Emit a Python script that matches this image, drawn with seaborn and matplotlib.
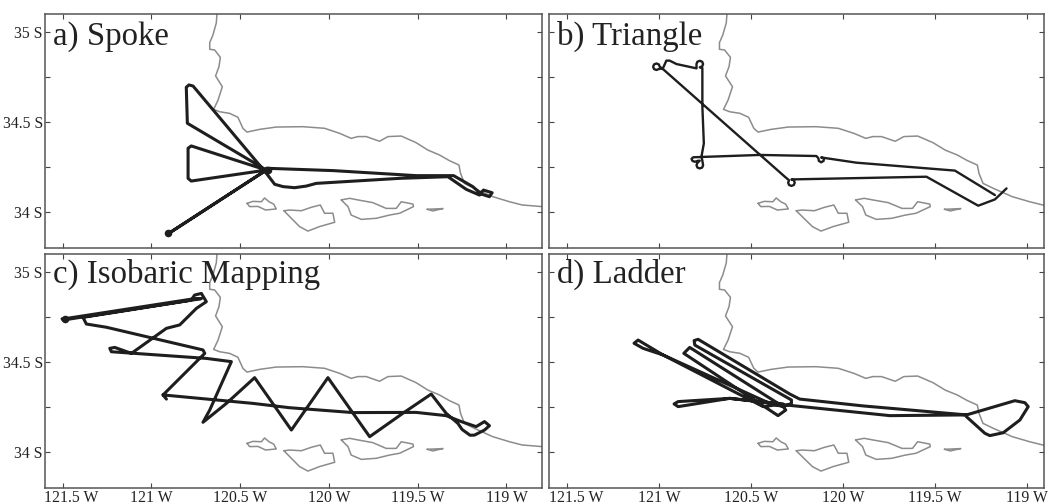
import matplotlib
matplotlib.use('Agg')
import matplotlib.pyplot as plt
import matplotlib.transforms as mtrans
import seaborn as sns

sns.set_style('white')
plt.rcParams['font.family'] = ['Liberation Serif', 'DejaVu Serif']

# coastline and islands (deg)
coast_lon = [-120.631, -120.635, -120.654, -120.672, -120.672, -120.644, -120.612, -120.620, -120.639, -120.601,
             -120.625, -120.650, -120.616, -120.560, -120.513, -120.485, -120.462, -120.391, -120.297, -120.147,
             -120.025, -119.940, -119.875, -119.837, -119.790, -119.715, -119.668, -119.593, -119.509, -119.443,
             -119.378, -119.321, -119.268, -119.259, -119.237, -119.180, -119.077, -118.983, -118.912, -118.800]
coast_lat = [35.10, 35.05, 34.983, 34.941, 34.904, 34.90, 34.859, 34.807, 34.756, 34.696,
             34.622, 34.570, 34.557, 34.548, 34.526, 34.465, 34.444, 34.459, 34.472, 34.474,
             34.465, 34.437, 34.409, 34.419, 34.419, 34.393, 34.419, 34.422, 34.385, 34.344,
             34.317, 34.285, 34.261, 34.215, 34.159, 34.131, 34.085, 34.057, 34.039, 34.03]

miguel_lon = [-120.462, -120.447, -120.400, -120.357, -120.297, -120.312, -120.338, -120.363, -120.381, -120.428, -120.462]
miguel_lat = [34.048, 34.030, 34.031, 34.011, 34.017, 34.044, 34.057, 34.078, 34.057, 34.059, 34.048]
rosa_lon = [-120.254, -120.203, -120.166, -120.119, -120.053, -119.968, -119.978, -120.025, -120.049, -120.100, -120.156, -120.222, -120.254]
rosa_lat = [34.007, 33.956, 33.919, 33.894, 33.919, 33.943, 33.993, 33.993, 34.039, 34.026, 34.007, 34.011, 34.007]
cruz_lon = [-119.931, -119.893, -119.875, -119.818, -119.734, -119.659, -119.602, -119.524, -119.527, -119.593, -119.621, -119.678, -119.753, -119.837, -119.884, -119.931]
cruz_lat = [34.067, 34.030, 33.983, 33.959, 33.965, 33.983, 33.993, 34.030, 34.044, 34.057, 34.020, 34.020, 34.052, 34.067, 34.076, 34.067]
anacapa_lon = [-119.447, -119.415, -119.358, -119.400, -119.447]
anacapa_lat = [34.015, 34.006, 34.019, 34.017, 34.015]

# flight tracks
spoke_lon = [-120.353, -119.978, -119.509, -119.298, -119.190, -119.143, -119.096, -119.081, -119.130, -119.152,
             -119.227, -119.330, -119.602, -120.072, -120.128, -120.194, -120.259, -120.306, -120.353, -120.766, -120.789, -120.804,
             -120.798, -120.353, -120.776, -120.794, -120.794, -120.776, -120.353, -120.911, -120.353]
spoke_lat = [34.243, 34.230, 34.202, 34.202, 34.141, 34.100, 34.085, 34.107, 34.122, 34.094,
             34.126, 34.196, 34.187, 34.159, 34.144, 34.135, 34.141, 34.154, 34.215, 34.700, 34.706, 34.693,
             34.493, 34.233, 34.367, 34.354, 34.187, 34.172, 34.233, 33.876, 34.233]

triangle_lon = [-119.109, -119.172, -119.263, -119.545, -120.280, -120.267, -120.262, -120.267, -120.280, -120.293,
                -120.298, -120.293, -120.316, -120.975, -120.997, -121.002, -121.015, -121.028, -121.033, -121.028,
                -121.015, -121.002, -120.979, -120.961, -120.943, -120.906, -120.797, -120.797, -120.792, -120.779,
                -120.766, -120.761, -120.766, -120.779, -120.765, -120.765, -120.757, -120.770, -120.765, -120.761,
                -120.766, -120.779, -120.792, -120.797, -120.792, -120.779, -120.790, -120.806, -120.819, -120.824,
                -120.815, -120.790, -120.452, -120.144, -120.133, -120.131, -120.118, -120.105, -120.103, -120.118,
                -119.926, -119.390, -119.172]
triangle_lat = [34.131, 34.070, 34.035, 34.196, 34.181, 34.176, 34.163, 34.150, 34.145, 34.150,
                34.163, 34.176, 34.196, 34.790, 34.807, 34.820, 34.825, 34.820, 34.807, 34.794,
                34.789, 34.794, 34.800, 34.841, 34.841, 34.822, 34.798, 34.822, 34.835, 34.840,
                34.835, 34.822, 34.809, 34.804, 34.800, 34.585, 34.381, 34.307, 34.285, 34.260,
                34.247, 34.242, 34.247, 34.260, 34.273, 34.285, 34.284, 34.279, 34.284, 34.295,
                34.304, 34.305, 34.317, 34.311, 34.298, 34.284, 34.276, 34.284, 34.298, 34.303,
                34.274, 34.230, 34.094]

isobaric_lon = [-120.935, -120.428, -120.222, -119.865, -119.509, -119.340, -119.255, -119.171, -119.124, -119.096,
                -119.124, -119.180, -119.205, -119.250, -119.274, -119.340, -119.424, -119.584, -119.771, -120.006, -120.212,
                -120.419, -120.578, -120.710, -120.672, -120.550, -120.691, -121.226, -121.235, -121.207, -121.113,
                -120.916, -120.841, -120.747, -120.691, -120.719, -120.757, -120.776, -121.498, -121.504, -121.479,
                -120.757, -120.719, -121.386, -121.367, -121.254, -120.710, -120.700, -120.935, -120.916]
isobaric_lat = [34.317, 34.270, 34.246, 34.219, 34.220, 34.202, 34.169, 34.141, 34.169, 34.146,
                34.122, 34.094, 34.093, 34.125, 34.159, 34.215, 34.322, 34.215, 34.085, 34.413, 34.122,
                34.413, 34.270, 34.165, 34.233, 34.502, 34.520, 34.557, 34.576, 34.581, 34.548,
                34.687, 34.706, 34.798, 34.835, 34.881, 34.872, 34.844, 34.733, 34.740, 34.742,
                34.852, 34.852, 34.748, 34.711, 34.693, 34.567, 34.548, 34.317, 34.294]

ladder_lon = [-119.327, -119.227, -119.200, -119.127, -119.036, -118.991, -119.009, -119.064, -119.327, -119.890,
              -120.235, -120.289, -120.788, -120.810, -120.806, -120.280, -120.280, -120.325, -120.834, -120.866,
              -120.353, -120.311, -120.325, -120.398, -120.979, -121.115, -121.137, -121.088, -120.979, -120.434,
              -120.325, -120.616, -120.897, -120.919, -120.897, -120.616, -120.307, -119.744, -119.327]
ladder_lat = [34.196, 34.104, 34.091, 34.107, 34.178, 34.252, 34.274, 34.285, 34.206, 34.256,
              34.294, 34.322, 34.626, 34.619, 34.594, 34.289, 34.270, 34.252, 34.581, 34.548,
              34.202, 34.233, 34.252, 34.270, 34.539, 34.622, 34.604, 34.576, 34.539, 34.252,
              34.267, 34.298, 34.252, 34.267, 34.280, 34.298, 34.261, 34.202, 34.206]

# blobs where the aircraft circled
blob_lon = [[-120.345, -120.905], [], [-121.49], []]
blob_lat = [[34.235, 33.882], [], [34.737], []]

titles = ['a) Spoke', 'b) Triangle', 'c) Isobaric Mapping', 'd) Ladder']
tracks = [(spoke_lon, spoke_lat), (triangle_lon, triangle_lat), (isobaric_lon, isobaric_lat), (ladder_lon, ladder_lat)]
lon_ticks = [-121.5, -121, -120.5, -120, -119.5, -119]
lon_labels = ['121.5 W', '121 W', '120.5 W', '120 W', '119.5 W', '119 W']
lat_ticks = [34, 34.25, 34.5, 34.75, 35]
lat_labels = ['34 S', '', '34.5 S', '', '35 S']

W, H = 1049, 504
fig = plt.figure(figsize=(W / 100, H / 100), dpi=100)
# pixel boxes of the panels: left, top, right, bottom
boxes = [(45, 14, 542, 248), (549, 14, 1044, 248), (45, 254, 542, 488), (549, 254, 1044, 488)]
title_y = [0.868, 0.868, 0.876, 0.876]

for i, box in enumerate(boxes):
    l, t, r, b = box
    ax = fig.add_axes([l / W, 1 - b / H, (r - l) / W, (b - t) / H])

    for c_lon, c_lat in [(coast_lon, coast_lat), (miguel_lon, miguel_lat), (rosa_lon, rosa_lat),
                         (cruz_lon, cruz_lat), (anacapa_lon, anacapa_lat)]:
        sns.lineplot(x=c_lon, y=c_lat, sort=False, estimator=None, color='#8c8c8c', lw=1.1, ax=ax)

    sns.lineplot(x=tracks[i][0], y=tracks[i][1], sort=False, estimator=None, color='#1e1e1e',
                 lw=1.7 if i == 1 else 2.2, solid_joinstyle='round', solid_capstyle='round', ax=ax)
    if blob_lon[i]:
        sns.scatterplot(x=blob_lon[i], y=blob_lat[i], color='#1e1e1e', s=30, linewidth=0, ax=ax)

    ax.set_xlim(-121.60, -118.80 if i % 2 == 0 else -118.905)
    ax.set_ylim(33.8, 35.1)
    ax.set_xticks(lon_ticks)
    ax.set_yticks(lat_ticks)
    ax.set_xticklabels(lon_labels if i >= 2 else [''] * 6)
    ax.set_yticklabels(lat_labels if i % 2 == 0 else [''] * 5)
    ax.tick_params(axis='both', which='major', direction='in', length=3.8, width=0.8, color='#444444',
                   top=True, right=True, bottom=True, left=True, labelsize=11.3, labelcolor='#222222', pad=1.5)
    for s in ax.spines.values():
        s.set_color('#555555')
        s.set_linewidth(1.1)

    # first longitude label sits clear of the corner
    if i >= 2:
        first = ax.get_xticklabels()[0]
        first.set_transform(first.get_transform() + mtrans.ScaledTranslation(8.7 / 100, 0, fig.dpi_scale_trans))

    ax.text(0.0155, title_y[i], titles[i], transform=ax.transAxes, fontsize=23.7, color='#222222', va='baseline')

fig.savefig('out.png', dpi=100)
